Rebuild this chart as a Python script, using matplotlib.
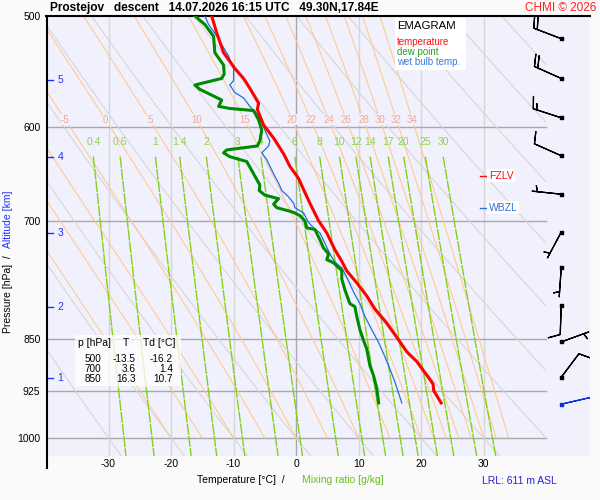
import numpy as np
import matplotlib.pyplot as plt
from matplotlib.patches import Rectangle
from matplotlib.ticker import NullLocator

plt.rcParams['font.family'] = ['Liberation Sans', 'DejaVu Sans']

# --- sounding ---
t_p = [500, 514, 531, 545, 554, 563, 577, 583, 598, 611, 627, 640, 653, 665, 680,
       700, 714, 734, 748, 760, 775, 792, 809, 828, 850, 868, 882, 902, 915, 925, 944]
t_val = [-13.5, -12.7, -11.6, -9.8, -8.4, -7.4, -6.0, -6.2, -5.2, -3.6, -2.0, -1.0, 0.4, 1.2, 2.2,
         3.6, 4.9, 6.2, 7.3, 8.1, 9.7, 11.3, 12.6, 14.5, 16.3, 17.7, 19.3, 20.9, 21.9, 22.0, 23.2]

td_p = [500, 507, 517, 531, 542, 550, 554, 560, 564, 574, 580, 582, 584, 593, 603, 614, 619,
        623, 626, 630, 635, 648, 660, 666, 671, 675, 681, 685, 689, 691, 694, 700, 708, 710,
        722, 732, 739, 746, 750, 756, 759, 770, 784, 802, 806, 819, 837, 850, 864, 888, 903,
        922, 944]
td_val = [-16.2, -14.6, -13.2, -13.0, -11.6, -11.5, -11.9, -16.2, -15.4, -11.9, -12.4, -10.6,
          -6.8, -6.0, -5.5, -5.8, -6.2, -11.1, -11.6, -10.6, -7.9, -6.8, -5.8, -5.9, -5.0, -2.8,
          -3.6, -3.1, -1.0, -0.2, 0.6, 1.4, 1.7, 3.0, 3.8, 4.4, 5.2, 4.9, 6.0, 6.8, 7.3, 7.3,
          7.8, 8.6, 9.4, 9.7, 10.2, 10.7, 11.3, 11.8, 12.4, 12.9, 13.2]

tw_p = [500, 507, 519, 524, 534, 545, 556, 560, 567, 572, 580, 587, 595, 603, 614, 619, 626,
        633, 648, 658, 666, 673, 680, 685, 691, 702, 708, 714, 726, 739, 749, 756, 768, 787,
        802, 819, 837, 855, 875, 893, 912, 944]
tw_val = [-14.6, -14.0, -12.4, -11.9, -10.8, -10.0, -10.0, -10.6, -9.8, -8.4, -7.4, -6.3, -5.5,
          -5.0, -4.2, -4.4, -5.5, -4.7, -3.6, -2.8, -2.3, -1.2, -0.4, -0.2, 1.2, 2.0, 2.8, 3.8,
          4.6, 5.4, 6.2, 7.3, 8.1, 9.2, 10.2, 11.0, 12.1, 13.2, 14.2, 15.0, 15.8, 16.9]

wind_p = [519, 554, 591, 629, 670, 713, 756, 804, 854, 905, 946]
wind_dir = [291, 294, 288, 294, 276, 208, 184, 182, 70, 37, 77]
wind_spd = [20, 20, 15, 10, 5, 5, 5, 10, 5, 10, 10]

alt_km = [1, 2, 3, 4, 5]
alt_p = [906, 806, 714, 630, 555]

fzlv_p = 650
wbzl_p = 685

table_p = [500, 700, 850]
table_t = [-13.5, 3.6, 16.3]
table_td = [-16.2, 1.4, 10.7]

isobars = [600, 700, 850, 925, 1000]
isotherms = [-30, -20, -10, 0, 10, 20, 30]
theta_dry = [-30, -20, -10, 0, 10, 20, 30, 40, 50, 60, 70, 80, 90, 100, 110]
theta_w = [-20, -15, -10, -5, 0, 5, 10, 15, 20, 22, 24, 26, 28, 30, 32, 34]
theta_w_lab = [-5, 0, 5, 10, 15, 20, 22, 24, 26, 28, 30, 32, 34]
mix_r = [0.4, 0.6, 1, 1.4, 2, 3, 4, 6, 8, 10, 12, 14, 17, 20, 25, 30]

# --- thermodynamics for the background lines ---
Rd, cpd, Lv, eps = 287.04, 1005.7, 2.501e6, 0.622


def es(tc):
    return 6.112 * np.exp(17.67 * tc / (tc + 243.5))


def lapse(T, lnp):
    pp = np.exp(lnp)
    e = es(T - 273.15)
    rs = eps * e / (pp - e)
    return (Rd * T + Lv * rs) / (cpd + Lv ** 2 * rs * eps / (Rd * T ** 2))


def moist_adiabat(t0, p):
    lnp = np.log(p)
    T = t0 + 273.15
    out = [T]
    for i in range(1, len(p)):
        h = lnp[i] - lnp[i - 1]
        k1 = lapse(T, lnp[i - 1])
        k2 = lapse(T + h * k1 / 2, lnp[i - 1] + h / 2)
        k3 = lapse(T + h * k2 / 2, lnp[i - 1] + h / 2)
        k4 = lapse(T + h * k3, lnp[i])
        T = T + h * (k1 + 2 * k2 + 2 * k3 + k4) / 6
        out.append(T)
    return np.array(out) - 273.15


def dewpoint_from_w(w, p):
    e = w * p / (622.0 + w)
    a = np.log(e / 6.112)
    return 243.5 * a / (17.67 - a)


BG = '#f1f1fd'
fig = plt.figure(figsize=(6, 5), dpi=100, facecolor='#fafafa')
ax = fig.add_axes([46 / 600, 44 / 500, 544 / 600, 440 / 500])
ax.set_facecolor(BG)
ax.set_yscale('log')
ax.set_ylim(1030, 500)
ax.set_xlim(-40, 47)
ax.yaxis.set_minor_locator(NullLocator())

clip = Rectangle((-40, 500), 80, 530, transform=ax.transData)

# isotherms and isobars
for t in isotherms:
    ax.plot([t, t], [500, 1030], color='#a8a8a8' if t == 0 else '#d6d6d6', lw=1, zorder=1)
for p in isobars:
    ax.plot([-40, 40], [p, p], color='#a8a8a8', lw=1, zorder=1)

# dry adiabats
pd_ = np.linspace(500, 1030, 200)
for th in theta_dry:
    T = (th + 273.15) * (pd_ / 1000.0) ** 0.286 - 273.15
    ln, = ax.plot(T, pd_, color='#d6d6d6', lw=0.8, zorder=1)
    ln.set_clip_path(clip)

# pseudo-adiabats
pm = np.linspace(1000, 500, 300)
for th in theta_w:
    T = moist_adiabat(th, pm)
    ln, = ax.plot(T, pm, color='#ffc88c', lw=0.75, zorder=1)
    ln.set_clip_path(clip)
    if th in theta_w_lab:
        tl = np.interp(np.log(593), np.log(pm[::-1]), T[::-1])
        ax.text(tl, 593, str(th), color='#f7a68e', fontsize=7, ha='center', va='center',
                zorder=2, bbox=dict(facecolor=BG, edgecolor='none', pad=0.3))

# mixing ratio lines
pw = np.linspace(630, 1030, 100)
for w in mix_r:
    T = dewpoint_from_w(w, pw)
    ln, = ax.plot(T, pw, color='#86d01a', lw=1, ls=(0, (8, 0.8)), zorder=1)
    ln.set_clip_path(clip)
    ax.text(T[0], 615, f'{w:g}', color='#92d050', fontsize=7.5, ha='center', va='center', zorder=2)

# profiles
ax.plot(tw_val, tw_p, color='#1f6fe0', lw=0.9, zorder=4)
ax.plot(td_val, td_p, color='#008a00', lw=2.2, zorder=5)
ax.plot(t_val, t_p, color='#ff0000', lw=2.2, zorder=6)

# altitude marks
for km, p in zip(alt_km, alt_p):
    ax.plot([-39.7, -38.9], [p, p], color='#2030ff', lw=1, zorder=3)
    ax.text(-38.2, p, str(km), color='#2030ff', fontsize=7.5, ha='left', va='center', zorder=3)

# freezing levels
for p, lab, col in [(fzlv_p, 'FZLV', '#ff1010'), (wbzl_p, 'WBZL', '#2a6fdc')]:
    ax.plot([29.4, 30.4], [p, p], color=col, lw=1, zorder=3)
    ax.text(30.8, p, lab, color=col, fontsize=7.5, ha='left', va='center', zorder=3,
            bbox=dict(facecolor='white', edgecolor='none', pad=1.2))

# wind barbs
wd = np.radians(wind_dir)
ws = np.array(wind_spd)
u = -ws * np.sin(wd)
v = -ws * np.cos(wd)
bx = np.full(len(wind_p), 42.4)
cols = ['k'] * (len(wind_p) - 1) + ['#1030e0']
ax.barbs(bx, wind_p, u, v, length=6.5, lw=0.9, color=cols, zorder=5)
ax.scatter(bx, wind_p, s=5, marker='s', c=cols, zorder=6)

# axes cosmetics
ax.set_xticks(isotherms)
ax.set_xticklabels([str(t) for t in isotherms], fontsize=7.5)
ax.set_yticks([500, 600, 700, 850, 925, 1000])
ax.set_yticklabels(['500', '600', '700', '850', '925', '1000'], fontsize=7.5)
ax.tick_params(length=0, pad=2.5)
ax.tick_params(axis='y', pad=4)
for s in ['right', 'bottom', 'left']:
    ax.spines[s].set_visible(False)
ax.spines['top'].set_linewidth(1.5)
fig.add_artist(plt.Line2D([46.5 / 600, 46.5 / 600], [1 - 468 / 500, 1 - 16 / 500],
                          color='k', lw=1.5, transform=fig.transFigure))


def px(x, y):
    return x / 600, 1 - y / 500


# legend box
fig.add_artist(Rectangle(px(395, 70), 71 / 600, 52 / 500, transform=fig.transFigure,
                         facecolor='white', edgecolor='none', zorder=3))
fig.text(*px(397, 26), 'EMAGRAM', fontsize=8.2, va='center', zorder=4)
fig.text(*px(397, 42), 'temperature', color='#ff1010', fontsize=7, va='center', zorder=4)
fig.text(*px(397, 52), 'dew point', color='#22a022', fontsize=7, va='center', zorder=4)
fig.text(*px(397, 62), 'wet bulb temp.', color='#3a7be0', fontsize=7, va='center', zorder=4)

# values table
fig.add_artist(Rectangle(px(75, 386), 106 / 600, 51 / 500, transform=fig.transFigure,
                         facecolor='white', edgecolor='none', alpha=0.75, zorder=3))
fig.text(*px(78, 343), 'p [hPa]', fontsize=7.5, va='center', zorder=4)
fig.text(*px(126, 343), 'T', fontsize=7.5, va='center', ha='center', zorder=4)
fig.text(*px(143, 343), 'Td [°C]', fontsize=7.5, va='center', zorder=4)
for i, (p, t, td) in enumerate(zip(table_p, table_t, table_td)):
    y = 359 + 10 * i
    fig.text(*px(101, y), str(p), fontsize=7.2, va='center', ha='right', zorder=4)
    fig.text(*px(136, y), f'{t:.1f}', fontsize=7.2, va='center', ha='right', zorder=4)
    fig.text(*px(173, y), f'{td:.1f}', fontsize=7.2, va='center', ha='right', zorder=4)

# titles and labels
fig.text(*px(50, 8), 'Prostejov   descent   14.07.2026 16:15 UTC   49.30N,17.84E',
         fontsize=8.6, fontweight='bold', va='center')
fig.text(*px(596, 8), 'CHMI © 2026', color='#ff2020', fontsize=8.5, ha='right', va='center')
fig.text(*px(8, 333), 'Pressure [hPa]  /', fontsize=7.5, rotation=90, ha='center', va='bottom')
fig.text(*px(8, 248), 'Altitude [km]', color='#2030ff', fontsize=7.5, rotation=90,
         ha='center', va='bottom')
fig.text(*px(197, 480), 'Temperature [°C]  /', fontsize=7.5, va='center')
fig.text(*px(302, 480), 'Mixing ratio [g/kg]', color='#66c21a', fontsize=7.5, va='center')
fig.text(*px(482, 481), 'LRL: 611 m ASL', color='#2222dd', fontsize=7.5, va='center')

fig.savefig('out.png', dpi=100, facecolor=fig.get_facecolor())
